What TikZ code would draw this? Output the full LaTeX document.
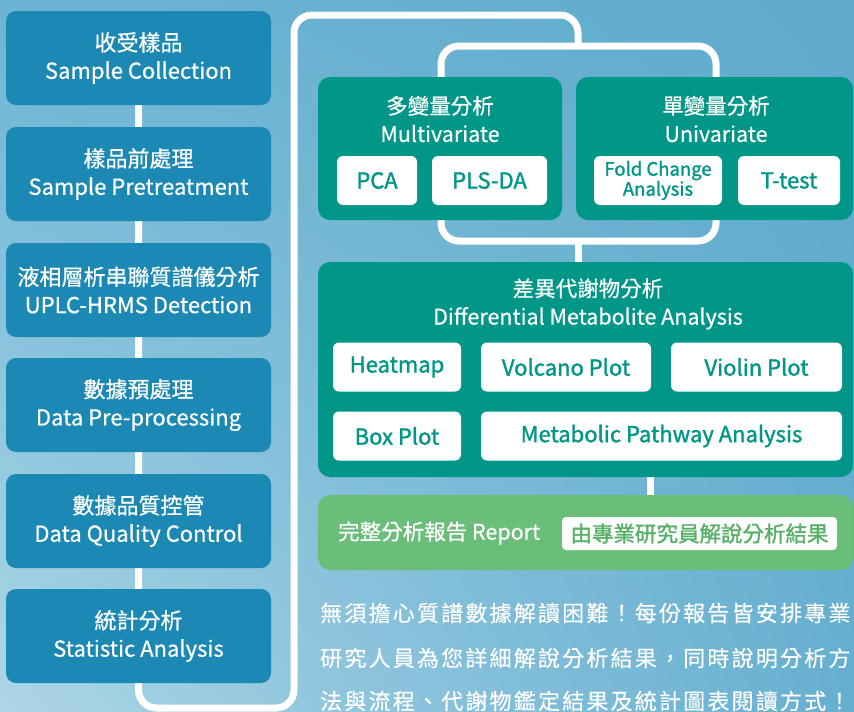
\documentclass[tikz,border=0pt]{standalone}
\usepackage{fontspec}
\usepackage{xcolor}
\setmainfont{Noto Sans CJK TC}
\newfontfamily\mediumcjk[FakeBold=0.6]{Noto Sans CJK TC}
\newfontfamily\semicjk[FakeBold=1.4]{Noto Sans CJK TC}
\newfontfamily\widecjk[LetterSpace=10,FakeBold=0.3]{Noto Sans CJK TC}
\usetikzlibrary{backgrounds,shadings}

\definecolor{bgul}{HTML}{6CB4D3}
\definecolor{bgur}{HTML}{5FAACC}
\definecolor{bgll}{HTML}{ADD6E6}
\definecolor{bglr}{HTML}{66AFD0}
\definecolor{stepfill}{HTML}{1B89B4}
\definecolor{tealfill}{HTML}{009688}
\definecolor{reportfill}{HTML}{6BBE7A}
\definecolor{reporttext}{HTML}{56B066}

\tikzset{
    stepbox/.style={fill=stepfill, rounded corners=10pt, minimum width=265pt,
        minimum height=94pt, inner sep=0pt, text=white, align=center,
        font=\mediumcjk\fontsize{22}{28}\selectfont},
    groupbox/.style={fill=tealfill, rounded corners=12pt, inner sep=0pt},
    grouptitle/.style={text=white, align=center, inner sep=0pt,
        font=\mediumcjk\fontsize{21.5}{28}\selectfont},
    methodbox/.style={fill=white, rounded corners=6pt, inner sep=0pt,
        text=tealfill, align=center, minimum height=49pt,
        font=\semicjk\fontsize{22}{24}\selectfont},
    flowline/.style={draw=white, line width=7pt, rounded corners=18pt},
    paraline/.style={text=white, anchor=west, inner sep=0pt,
        font=\widecjk\fontsize{22}{26}\selectfont},
}

\begin{document}
\begin{tikzpicture}[x=1pt,y=-1pt]
    \useasboundingbox (0,0) rectangle (854,712);

    % workflow steps
    \node[stepbox] (collect) at (138.5,58) {收受樣品\\Sample Collection};
    \node[stepbox] (pretreat) at (138.5,174) {樣品前處理\\Sample Pretreatment};
    \node[stepbox] (detect) at (138.5,290) {液相層析串聯質譜儀分析\\UPLC-HRMS Detection};
    \node[stepbox] (preproc) at (138.5,405) {數據預處理\\Data Pre-processing};
    \node[stepbox] (quality) at (138.5,521) {數據品質控管\\Data Quality Control};
    \node[stepbox] (stats) at (138.5,636) {統計分析\\Statistic Analysis};

    % multivariate / univariate
    \node[groupbox, minimum width=244pt, minimum height=143pt] (multi) at (440,148.5) {};
    \node[grouptitle] (multititle) at (440,119) {多變量分析\\Multivariate};
    \node[methodbox, minimum width=80pt] (pca) at (377,180.5) {PCA};
    \node[methodbox, minimum width=115pt] (plsda) at (489.5,180.5) {PLS-DA};

    \node[groupbox, minimum width=277pt, minimum height=143pt] (uni) at (714.5,148.5) {};
    \node[grouptitle] (unititle) at (716,119) {單變量分析\\Univariate};
    \node[methodbox, minimum width=128pt, font=\semicjk\fontsize{18.5}{20}\selectfont] (fold) at (658,180.5) {Fold Change\\Analysis};
    \node[methodbox, minimum width=102pt] (ttest) at (789,180.5) {T-test};

    % differential metabolites
    \node[groupbox, minimum width=535pt, minimum height=215pt] (diff) at (585.5,369.5) {};
    \node[grouptitle] (difftitle) at (588,304) {差異代謝物分析\\Differential Metabolite Analysis};
    \node[methodbox, minimum width=128pt] (heat) at (397,367) {Heatmap};
    \node[methodbox, minimum width=170pt] (volcano) at (566,367) {Volcano Plot};
    \node[methodbox, minimum width=171pt] (violin) at (756.5,367) {Violin Plot};
    \node[methodbox, minimum width=128pt] (boxplot) at (397,436) {Box Plot};
    \node[methodbox, minimum width=361pt] (pathway) at (661.5,436) {Metabolic Pathway Analysis};

    % report
    \node[groupbox, fill=reportfill, minimum width=535pt, minimum height=75pt] (report) at (585.5,532.5) {};
    \node[grouptitle, anchor=west] (reporttitle) at (338,533) {完整分析報告 Report};
    \node[fill=white, rounded corners=4pt, minimum width=275pt, minimum height=33pt,
        inner sep=0pt, text=reporttext, font=\semicjk\fontsize{21.5}{24}\selectfont] (reportnote) at (699.5,533.5) {由專業研究員解說分析結果};

    \node[paraline] (para1) at (320,613) {無須擔心質譜數據解讀困難！每份報告皆安排專業};
    \node[paraline] (para2) at (320,658) {研究人員為您詳細解說分析結果，同時說明分析方};
    \node[paraline] (para3) at (320,701) {法與流程、代謝物鑑定結果及統計圖表閱讀方式！};

    \begin{scope}[on background layer]
        \shade[upper left=bgul, upper right=bgur, lower left=bgll, lower right=bglr]
            (0,0) rectangle (854,712);
        % connectors
        \coordinate (frametop) at (578,46);
        \coordinate (framebot) at (578,241);
        \coordinate (reporttap) at (650,477);
        \draw[flowline] (collect.south) -- (collect.south |- 0,708) -- (294,708)
            -- (294,15) -- (578,15) -- (frametop);
        \draw[flowline] (441,46) rectangle (716,241);
        \draw[flowline] (framebot) -- (framebot |- diff.north);
        \draw[flowline] (reporttap) -- (reporttap |- report.north);
    \end{scope}
\end{tikzpicture}
\end{document}
